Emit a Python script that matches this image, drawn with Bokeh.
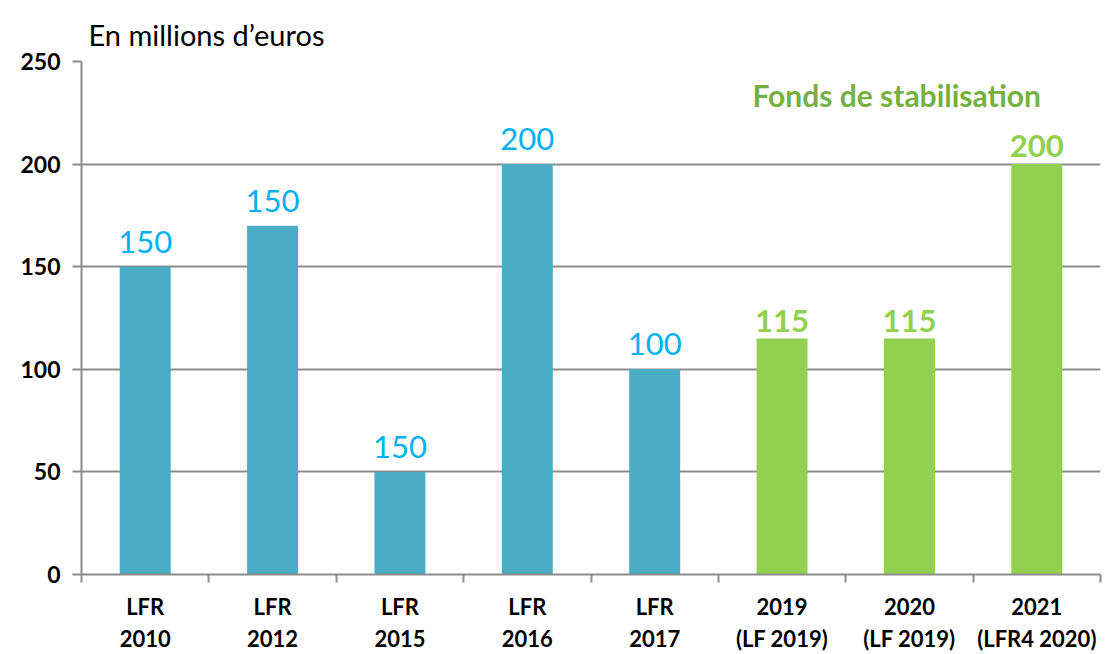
from bokeh.plotting import figure
from bokeh.models import ColumnDataSource, FixedTicker, Range1d, Label, LabelSet, Title
from bokeh.core.properties import value
from bokeh.embed import file_html
from bokeh.resources import INLINE

categories = ["LFR\n2010", "LFR\n2012", "LFR\n2015", "LFR\n2016", "LFR\n2017",
              "2019\n(LF 2019)", "2020\n(LF 2019)", "2021\n(LFR4 2020)"]
heights = [150, 170, 50, 200, 100, 115, 115, 200]
labels = ["150", "150", "150", "200", "100", "115", "115", "200"]
is_fund = [False, False, False, False, False, True, True, True]
y_ticks = [0, 50, 100, 150, 200, 250]

BLUE_BAR = "#4BACC6"
GREEN_BAR = "#92D050"
BLUE_TXT = "#00B0F0"
GREEN_TXT = "#92D050"
GRID = "#8C8C8C"
FONT = "Lato"

xs = [i + 0.5 for i in range(len(categories))]
src = ColumnDataSource(dict(
    x=xs, top=heights, lab=labels,
    color=[GREEN_BAR if f else BLUE_BAR for f in is_fund],
))

def subset(flag):
    idx = [i for i, f in enumerate(is_fund) if f == flag]
    return ColumnDataSource(dict(x=[xs[i] for i in idx], top=[heights[i] for i in idx],
                                 lab=[labels[i] for i in idx]))

blue_src = subset(False)
green_src = subset(True)

p = figure(width=1106, height=654, output_backend="svg", toolbar_location=None,
           x_range=Range1d(0, len(categories)), y_range=Range1d(0, 250),
           min_border_left=81, min_border_right=6, min_border_top=61, min_border_bottom=78)
p.outline_line_color = None
p.background_fill_color = "white"

title = Title(text="En millions d\u2019euros", text_font=FONT, text_font_size="29px",
              text_font_style="normal", text_color="#000000", align="left", offset=7,
              standoff=18, vertical_align="middle")
p.add_layout(title, "above")

p.vbar(x="x", top="top", width=0.4, source=src, fill_color="color", line_color=None)

p.add_layout(LabelSet(x="x", y="top", text="lab", source=blue_src, text_color=BLUE_TXT,
                      text_font=value(FONT), text_font_size="31px", text_font_style="normal",
                      text_align="center", text_baseline="alphabetic", y_offset=14))
p.add_layout(LabelSet(x="x", y="top", text="lab", source=green_src, text_color=GREEN_TXT,
                      text_font=value(FONT), text_font_size="31px", text_font_style="bold",
                      text_align="center", text_baseline="alphabetic", y_offset=7))

p.add_layout(Label(x=6.4, y=233.5, text="Fonds de stabilisation", text_font=FONT,
                   text_font_size="30px", text_font_style="bold", text_color="#76B041",
                   text_align="center", text_baseline="middle"))

# x axis
xa = p.xaxis[0]
xa.ticker = FixedTicker(ticks=xs, minor_ticks=list(range(len(categories) + 1)))
xa.major_label_overrides = {x: c for x, c in zip(xs, categories)}
xa.major_tick_line_color = None
xa.minor_tick_line_color = GRID
xa.minor_tick_line_width = 2
xa.minor_tick_out = 8
xa.minor_tick_in = 0
xa.axis_line_color = GRID
xa.axis_line_width = 2
xa.major_label_text_font = FONT
xa.major_label_text_font_style = "bold"
xa.major_label_text_font_size = "22px"
xa.major_label_text_color = "#000000"
xa.major_label_standoff = 10

# y axis
ya = p.yaxis[0]
ya.ticker = FixedTicker(ticks=y_ticks)
ya.major_tick_line_color = GRID
ya.major_tick_line_width = 2
ya.major_tick_out = 9
ya.major_tick_in = 0
ya.minor_tick_line_color = None
ya.axis_line_color = GRID
ya.axis_line_width = 2
ya.major_label_text_font = FONT
ya.major_label_text_font_style = "bold"
ya.major_label_text_font_size = "23px"
ya.major_label_text_color = "#000000"
ya.major_label_standoff = 12

p.xgrid.grid_line_color = None
p.ygrid.ticker = FixedTicker(ticks=y_ticks[1:])
p.ygrid.grid_line_color = GRID
p.ygrid.grid_line_width = 2

open("out.html", "w").write(file_html(p, INLINE))
